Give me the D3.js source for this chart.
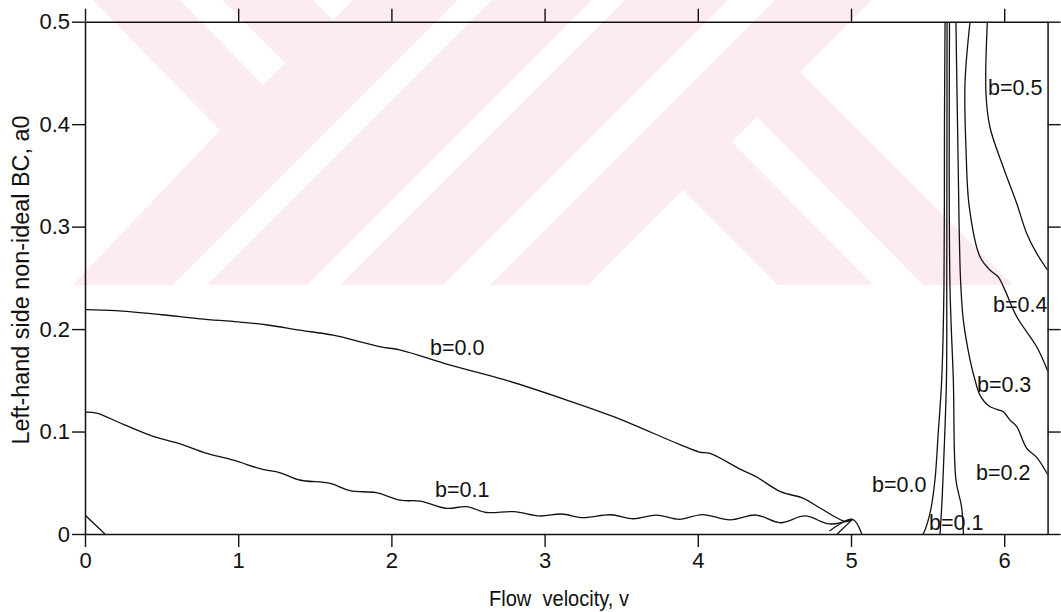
<!DOCTYPE html>
<html>
<head>
<meta charset="utf-8">
<script src="https://cdn.jsdelivr.net/npm/d3@7.9.0/dist/d3.min.js"></script>
<style>
  html, body { margin: 0; padding: 0; background: #fff; }
  svg { display: block; font-family: "Liberation Sans", Arial, Helvetica, sans-serif; }
</style>
</head>
<body>
<svg id="chart" width="1061" height="612"></svg>
<script>
// tick values
const xTicks = [0, 1, 2, 3, 4, 5, 6];
const yTicks = [0, 0.1, 0.2, 0.3, 0.4, 0.5];

// curves: [v, a0]
const b00Left = [[0, 0.219], [0.2, 0.218], [0.5, 0.214], [0.75, 0.210], [1.0, 0.207], [1.19, 0.204],
  [1.4, 0.199], [1.62, 0.194], [1.93, 0.1827], [2.06, 0.1795], [2.38, 0.165], [2.73, 0.151],
  [3.14, 0.131], [3.45, 0.1145], [3.88, 0.0875], [4.01, 0.080], [4.08, 0.0787], [4.28, 0.063],
  [4.38, 0.056], [4.54, 0.0413], [4.69, 0.0348], [4.80, 0.0251], [4.97, 0.012], [5.01, 0.0143]];

const b01Left = [[0, 0.119], [0.076, 0.118], [0.25, 0.107], [0.45, 0.095], [0.62, 0.088], [0.79, 0.079],
  [0.97, 0.072], [1.16, 0.063], [1.27, 0.060], [1.40, 0.0527], [1.60, 0.0494], [1.73, 0.0423],
  [1.90, 0.0403], [2.06, 0.033], [2.19, 0.032], [2.36, 0.025], [2.49, 0.0267], [2.62, 0.021],
  [2.80, 0.0218], [2.97, 0.0176], [3.11, 0.0195], [3.25, 0.0159], [3.43, 0.0188], [3.58, 0.0149],
  [3.73, 0.0185], [3.88, 0.0143], [4.03, 0.019], [4.21, 0.0137], [4.38, 0.0185], [4.54, 0.011],
  [4.70, 0.0176], [4.86, 0.0098], [5.01, 0.0143]];

const tipLeft = [[0, 0.0185], [0.13, 0]];
const tipFive = [[4.86, 0.003], [5.01, 0.0143], [5.07, 0]];
const tipFive2 = [[4.91, 0], [5.01, 0.0143]];

const b00Right = [[5.614, 0.5], [5.610, 0.40], [5.607, 0.243], [5.592, 0.150], [5.570, 0.10],
  [5.548, 0.0527], [5.520, 0.0234], [5.483, 0.0039], [5.47, 0]];
const b01RightA = [[5.627, 0.5], [5.625, 0.243], [5.623, 0.150], [5.600, 0.0527], [5.592, 0.0263], [5.581, 0]];
const b01RightB = [[5.643, 0.5], [5.646, 0.243], [5.668, 0.150], [5.685, 0.0527], [5.722, 0.0263], [5.734, 0]];
const b03 = [[5.685, 0.5], [5.698, 0.375], [5.715, 0.248], [5.733, 0.209], [5.777, 0.17], [5.81, 0.150],
  [5.842, 0.1356], [5.90, 0.125], [5.951, 0.1217], [5.994, 0.1193], [6.038, 0.1112], [6.082, 0.1047],
  [6.147, 0.0836], [6.212, 0.0748], [6.286, 0.0576]];
const b04 = [[5.777, 0.5], [5.744, 0.4397], [5.751, 0.3746], [5.772, 0.3193], [5.842, 0.2705],
  [5.907, 0.2576], [5.961, 0.251], [6.005, 0.238], [6.082, 0.212], [6.212, 0.1827], [6.286, 0.1583]];
const b05 = [[5.890, 0.5], [5.881, 0.430], [5.907, 0.397], [5.994, 0.358], [6.082, 0.3226],
  [6.147, 0.2934], [6.212, 0.2739], [6.283, 0.2576]];

const series = [b00Left, b01Left, tipLeft, tipFive, tipFive2, b00Right, b01RightA, b01RightB, b03, b04, b05];

// curve labels, anchored in data units (left edge, baseline)
const labelText = ['b=0.0', 'b=0.1', 'b=0.0', 'b=0.1', 'b=0.2', 'b=0.3', 'b=0.4', 'b=0.5'];
const labelV = [2.252, 2.285, 5.137, 5.509, 5.816, 5.822, 5.927, 5.894];
const labelA = [0.1746, 0.0361, 0.0413, 0.0039, 0.0527, 0.1388, 0.2169, 0.4283];

const svg = d3.select('#chart');
const padL = 85, padT = 21.7, baseY = 534, unit = 153.2;
const x = d3.scaleLinear().domain([0, 2 * Math.PI]).range([padL, padL + unit * 2 * Math.PI]);
const y = d3.scaleLinear().domain([0, 0.5]).range([baseY, padT]);

// faint background stamp from the scanned page
const stamp = [
  [[60, 0], [93, 0], [220, 130], [73, 285], [60, 285]],
  [[180, 0], [222, 0], [285, 63], [263, 85]],
  [[313, 0], [353, 0], [333, 20]],
  [[173, 285], [207, 285], [492, 0], [458, 0]],
  [[307, 285], [340, 285], [625, 0], [592, 0]],
  [[443, 285], [490, 285], [775, 0], [728, 0]],
  [[588, 285], [683, 190], [778, 285]],
  [[732, 142], [757, 117], [923, 285], [873, 285]],
  [[872, 0], [1030, 0], [1030, 285], [1013, 285], [800, 72]]
];
const wm = svg.append('g');
wm.append('rect').attr('x', 60).attr('y', 0).attr('width', 960).attr('height', 285).attr('fill', '#fdecef');
wm.selectAll('polygon').data(stamp).join('polygon')
  .attr('points', d => d.map(p => p.join(',')).join(' '))
  .attr('fill', '#fff');

// axes
const styleAxis = (g, fs) => {
  g.select('.domain').attr('stroke', '#111').attr('stroke-width', 1.5);
  g.selectAll('.tick line').attr('stroke', '#111').attr('stroke-width', 1.4);
  g.selectAll('.tick text').attr('fill', '#111').attr('font-size', fs)
    .attr('font-family', '"Liberation Sans", Arial, Helvetica, sans-serif');
};

svg.append('g').attr('transform', `translate(0,${baseY})`)
  .call(d3.axisBottom(x).tickValues(xTicks).tickSize(13).tickSizeOuter(0).tickPadding(5).tickFormat(d3.format('d')))
  .call(g => styleAxis(g, 22));
svg.append('g').attr('transform', `translate(0,${padT})`)
  .call(d3.axisTop(x).tickValues(xTicks).tickSize(13).tickSizeOuter(0).tickFormat(''))
  .call(g => styleAxis(g, 22));
svg.append('g').attr('transform', `translate(${padL},0)`)
  .call(d3.axisLeft(y).tickValues(yTicks).tickSize(13).tickSizeOuter(0).tickPadding(2)
    .tickFormat(d => d === 0 ? '0' : d3.format('.1f')(d)))
  .call(g => styleAxis(g, 22));
svg.append('g').attr('transform', `translate(${x(2 * Math.PI)},0)`)
  .call(d3.axisRight(y).tickValues(yTicks).tickSize(13).tickSizeOuter(0).tickFormat(''))
  .call(g => styleAxis(g, 22));

// curves
svg.append('clipPath').attr('id', 'plot-clip').append('rect')
  .attr('x', padL).attr('y', padT).attr('width', x(2 * Math.PI) - padL).attr('height', baseY - padT);

const line = d3.line().x(d => x(d[0])).y(d => y(d[1])).curve(d3.curveCatmullRom.alpha(0.5));
svg.append('g').attr('clip-path', 'url(#plot-clip)')
  .selectAll('path').data(series).join('path')
  .attr('d', line)
  .attr('fill', 'none')
  .attr('stroke', '#111')
  .attr('stroke-width', 1.3);

// curve labels
svg.append('g').selectAll('text').data(labelText).join('text')
  .attr('x', (_, i) => x(labelV[i]))
  .attr('y', (_, i) => y(labelA[i]))
  .attr('font-size', 21.5)
  .attr('fill', '#111')
  .text(d => d);

// axis titles
svg.append('text')
  .attr('x', 559).attr('y', 606)
  .attr('text-anchor', 'middle')
  .attr('font-size', 22)
  .attr('textLength', 140).attr('lengthAdjust', 'spacingAndGlyphs')
  .attr('fill', '#111')
  .attr('xml:space', 'preserve')
  .text('Flow  velocity, v');

svg.append('text')
  .attr('transform', 'translate(29,280) rotate(-90)')
  .attr('text-anchor', 'middle')
  .attr('font-size', 23)
  .attr('textLength', 329).attr('lengthAdjust', 'spacingAndGlyphs')
  .attr('fill', '#111')
  .text('Left-hand side non-ideal BC, a0');
</script>
</body>
</html>
